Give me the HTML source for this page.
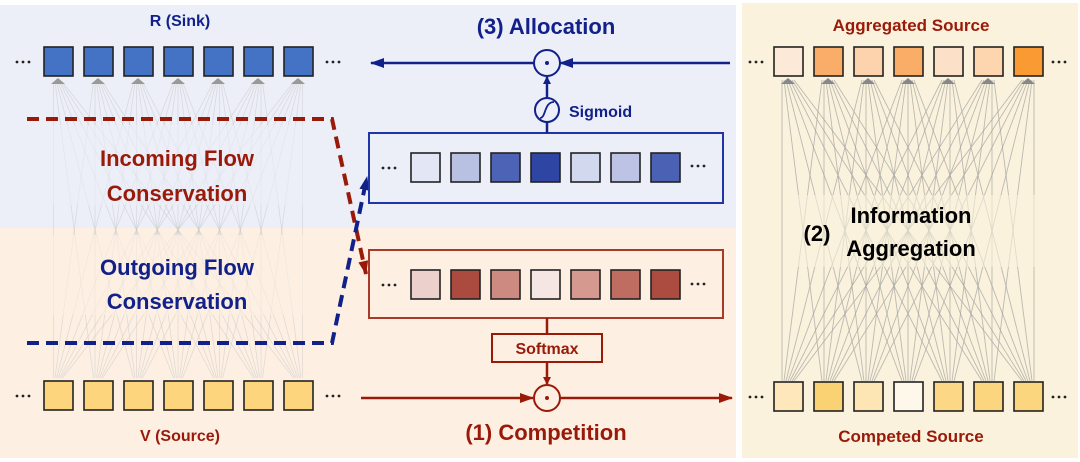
<!DOCTYPE html>
<html><head><meta charset="utf-8"><style>
html,body{margin:0;padding:0;background:#fff}
svg{display:block}
text{font-family:"Liberation Sans",sans-serif;font-weight:bold}
</style></head><body>
<svg id="s" width="1080" height="462" viewBox="0 0 1080 462" xmlns="http://www.w3.org/2000/svg">
<defs>
<marker id="ab" markerWidth="8" markerHeight="8" refX="7" refY="4" orient="auto" markerUnits="userSpaceOnUse"><path d="M0,0 L8,4 L0,8 Z" fill="#12208a"/></marker>
<marker id="ab2" markerWidth="14" markerHeight="10" refX="13" refY="5" orient="auto" markerUnits="userSpaceOnUse"><path d="M0,0 L14,5 L0,10 Z" fill="#12208a"/></marker>
<marker id="ar2" markerWidth="14" markerHeight="10" refX="13" refY="5" orient="auto" markerUnits="userSpaceOnUse"><path d="M0,0 L14,5 L0,10 Z" fill="#9a1a0a"/></marker>
<marker id="ar" markerWidth="8" markerHeight="8" refX="7" refY="4" orient="auto" markerUnits="userSpaceOnUse"><path d="M0,0 L8,4 L0,8 Z" fill="#9a1a0a"/></marker>
</defs>
<rect x="0" y="5" width="736" height="223" fill="#eceff8"/>
<rect x="0" y="228" width="736" height="230" fill="#fdf0e3"/>
<rect x="742" y="3" width="336" height="455" fill="#faf2dc"/>
<g id="lines"></g>
<rect x="40" y="125" width="280" height="80" fill="#eceff8" opacity="0.6"/>
<rect x="40" y="235" width="280" height="80" fill="#fdf0e3" opacity="0.6"/>
<text x="180" y="26" font-size="16" fill="#12208a" text-anchor="middle">R (Sink)</text>
<text x="180" y="441" font-size="16" fill="#9a1a0a" text-anchor="middle">V (Source)</text>
<text x="177" y="166" font-size="22" fill="#9a1a0a" text-anchor="middle">Incoming Flow</text>
<text x="177" y="201" font-size="22" fill="#9a1a0a" text-anchor="middle">Conservation</text>
<text x="177" y="275" font-size="22" fill="#12208a" text-anchor="middle">Outgoing Flow</text>
<text x="177" y="309" font-size="22" fill="#12208a" text-anchor="middle">Conservation</text>
<path d="M27,119 L332,119 L366,274" fill="none" stroke="#9a1a0a" stroke-width="4" stroke-dasharray="12,7" marker-end="url(#ar2)"/>
<path d="M27,343 L332,343 L367,177" fill="none" stroke="#12208a" stroke-width="4" stroke-dasharray="12,7" marker-end="url(#ab2)"/>
<rect x="369" y="133" width="354" height="70" fill="#eceff8" stroke="#1f35a8" stroke-width="2"/>
<rect x="369" y="250" width="354" height="68" fill="#fdf0e3" stroke="#a83a2a" stroke-width="2"/>
<line x1="730" y1="63" x2="560" y2="63" stroke="#12208a" stroke-width="2.5" marker-end="url(#ab2)"/>
<line x1="534" y1="63" x2="371" y2="63" stroke="#12208a" stroke-width="2.5" marker-end="url(#ab2)"/>
<circle cx="547" cy="63" r="13" fill="#eceff8" stroke="#12208a" stroke-width="2"/>
<circle cx="547" cy="63" r="2" fill="#12208a"/>
<line x1="547" y1="98" x2="547" y2="77" stroke="#12208a" stroke-width="2.5" marker-end="url(#ab)"/>
<circle cx="547" cy="110" r="12" fill="#eceff8" stroke="#12208a" stroke-width="2"/>
<path d="M540,118 C546,118 544,102 554,102" fill="none" stroke="#12208a" stroke-width="1.8"/>
<line x1="547" y1="122" x2="547" y2="133" stroke="#12208a" stroke-width="2.5"/>
<text x="569" y="117" font-size="16" fill="#12208a">Sigmoid</text>
<text x="546" y="34" font-size="22" fill="#12208a" text-anchor="middle">(3) Allocation</text>
<line x1="547" y1="318" x2="547" y2="334" stroke="#9a1a0a" stroke-width="2.5"/>
<rect x="492" y="334" width="110" height="28" fill="#fdf0e3" stroke="#9a1a0a" stroke-width="2"/>
<text x="547" y="354" font-size="16" fill="#9a1a0a" text-anchor="middle">Softmax</text>
<line x1="547" y1="362" x2="547" y2="384" stroke="#9a1a0a" stroke-width="2.5" marker-end="url(#ar)"/>
<line x1="361" y1="398" x2="533" y2="398" stroke="#9a1a0a" stroke-width="2.5" marker-end="url(#ar2)"/>
<line x1="560" y1="398" x2="732" y2="398" stroke="#9a1a0a" stroke-width="2.5" marker-end="url(#ar2)"/>
<circle cx="547" cy="398" r="13" fill="#fdf0e3" stroke="#9a1a0a" stroke-width="2"/>
<circle cx="547" cy="398" r="2" fill="#9a1a0a"/>
<text x="546" y="440" font-size="22" fill="#9a1a0a" text-anchor="middle">(1) Competition</text>
<text x="911" y="31" font-size="17" fill="#9a1a0a" text-anchor="middle">Aggregated Source</text>
<text x="911" y="442" font-size="17" fill="#9a1a0a" text-anchor="middle">Competed Source</text>
<rect x="790" y="195" width="250" height="72" fill="#faf2dc" opacity="0.6"/>
<text x="817" y="241" font-size="22" fill="#000" text-anchor="middle">(2)</text>
<text x="911" y="223" font-size="22" fill="#000" text-anchor="middle">Information</text>
<text x="911" y="256" font-size="22" fill="#000" text-anchor="middle">Aggregation</text>
<g id="sq"></g>
</svg>
<script>
var NS="http://www.w3.org/2000/svg",L=document.getElementById("lines"),S=document.getElementById("sq");
function el(p,t,a){var e=document.createElementNS(NS,t);for(var k in a)e.setAttribute(k,a[k]);p.appendChild(e);return e;}
function sq(x,y,f){el(S,"rect",{x:x,y:y,width:29,height:29,fill:f,stroke:"#222","stroke-width":1.6});}
function dots(x,y){for(var k=0;k<3;k++)el(S,"circle",{cx:x+k*6,cy:y,r:1.4,fill:"#222"});}
for(var i=0;i<7;i++)for(var j=0;j<7;j++){
 var xb=58+40*i+(j-3)*1.5,xt=58+40*j+(i-3)*1.5;
 el(L,"line",{x1:xb,y1:378,x2:xt,y2:82,stroke:"#c8c8c8","stroke-width":0.8,opacity:0.55});
 var xr=788+40*i+(j-3)*2,xrt=788+40*j+(i-3)*2;
 el(L,"line",{x1:xr,y1:381,x2:xrt,y2:80,stroke:"#a0a0a0","stroke-width":0.9,opacity:0.7});
}
for(var i=0;i<7;i++){el(L,"path",{d:"M"+(51+40*i)+",84 L"+(58+40*i)+",78 L"+(65+40*i)+",84 Z",fill:"#999"});
 el(L,"path",{d:"M"+(781+40*i)+",84 L"+(788+40*i)+",78 L"+(795+40*i)+",84 Z",fill:"#888"});}
var blueM=["#e3e6f4","#b9c1e3","#4d64b6","#2f45a3","#d2d8ee","#bcc3e4","#4a61b4"];
var redM=["#ecd0cb","#ab4a3e","#cd8a80","#f5e6e3","#d6998f","#c06d61","#ac4b3f"];
var agg=["#fde9d8","#f9ad68","#fdd3ad","#f9ad66","#fde0c8","#fdd6b0","#f99b32"];
var comp=["#fde7bb","#fad274","#fde5b4","#fef8ea","#fcd886","#fbd67e","#fbd67e"];
for(var i=0;i<7;i++){
 sq(44+40*i,47,"#4472c4");sq(44+40*i,381,"#fdd57c");
 sq(411+40*i,153,blueM[i]);sq(411+40*i,270,redM[i]);
 sq(774+40*i,47,agg[i]);sq(774+40*i,382,comp[i]);
}
dots(17,62);dots(327,62);dots(17,396);dots(327,396);
dots(383,168);dots(692,166);dots(383,285);dots(692,284);
dots(750,62);dots(1053,62);dots(750,397);dots(1053,397);
</script>
</body></html>
